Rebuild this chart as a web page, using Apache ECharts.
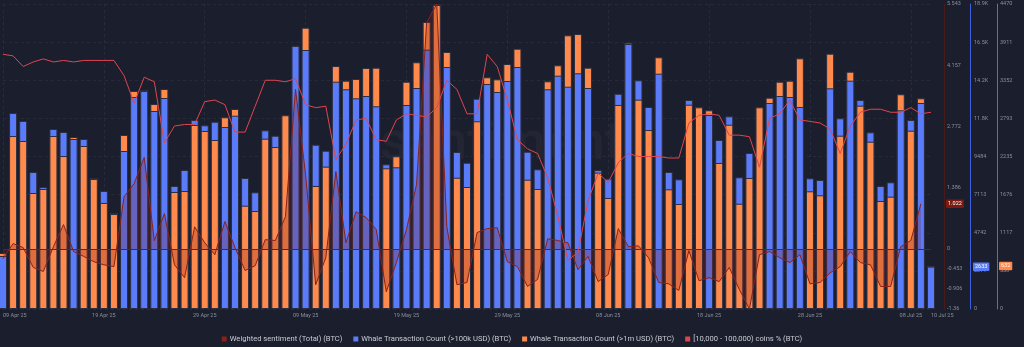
<!DOCTYPE html>
<html>
<head>
<meta charset="utf-8">
<style>
html,body{margin:0;padding:0;background:#1b1e2c;}
#chart{width:1024px;height:347px;}
</style>
<script src="https://cdn.jsdelivr.net/npm/echarts@6/dist/echarts.min.js"></script>
</head>
<body>
<div id="chart"></div>
<script>
// ---- data ----
const startDate = Date.UTC(2025, 3, 9);
const dayCount = 93;
const monthNames = ['Jan','Feb','Mar','Apr','May','Jun','Jul','Aug','Sep','Oct','Nov','Dec'];
const dates = [];
for (let i = 0; i < dayCount; i++) {
  const d = new Date(startDate + i * 86400000);
  dates.push(String(d.getUTCDate()).padStart(2,'0') + ' ' + monthNames[d.getUTCMonth()] + ' ' + String(d.getUTCFullYear()).slice(2));
}

const whale100k = [
  3296,12189,11692,8520,7587,11194,11008,10572,10572,8147,
  7338,5970,9826,13184,13557,12314,13122,7649,8644,11754,
  11424,11648,11319,12021,8147,7258,11113,10778,12065,16356,
  16107,10218,9845,14136,13663,13103,13246,12606,8999,8812,
  12687,13744,16126,18950,15050,9764,9098,13079,13993,13495,
  14179,15050,9783,8688,13663,14509,13825,14658,13744,8644,
  8103,13389,16480,14223,12562,14633,8520,8066,12998,12562,
  12065,10510,11984,8190,9702,12562,12811,13246,13184,12562,
  8128,8023,13725,11860,14198,12998,10989,7649,7879,12357,
  11754,12811,2633
];
const whale1m = [
  821,2535,2462,1700,1759,2535,2242,2521,2389,1905,
  1554,1392,2550,3195,3210,3004,3224,1715,1729,2697,
  2609,2477,2810,2931,1514,1436,2496,2374,2839,3862,
  4123,1803,2086,3561,3346,3371,3532,3537,2062,2238,
  3331,3616,4206,4455,3767,1924,1788,2751,3396,3366,
  3591,3815,1895,1759,3337,3572,4011,4030,3537,1998,
  1627,2990,3903,3068,2623,3689,1754,1539,2994,2956,
  2912,2140,2701,1543,1920,2956,3097,3331,3346,3674,
  1725,1666,3742,2540,3478,2980,2452,1583,1646,3147,
  2613,3088,632
];
const sentiment = [
  -0.22,0.12,0.03,-0.42,-0.51,0.05,0.55,-0.06,-0.17,-0.29,
  -0.36,-0.40,1.18,1.48,2.07,0.19,0.80,-0.36,-0.65,0.50,
  0.14,-0.13,0.62,0.03,-0.49,-0.38,0.21,0.19,0.73,3.61,
  1.68,-0.81,-0.20,1.75,0.14,0.84,0.71,0.44,-0.97,-0.31,
  0.44,1.46,5.12,5.543,0.50,-0.81,-0.76,0.37,0.46,0.48,
  -0.29,-0.40,-0.85,-0.69,0.23,0.19,0.14,-0.47,-0.17,-0.74,
  -0.58,0.46,0.05,0.07,-0.20,-0.76,-0.79,-0.94,-0.04,-0.72,
  -0.65,-0.74,-0.42,-0.92,-1.36,-0.13,-0.06,-0.20,-0.31,-0.13,
  -0.79,-0.76,-0.54,-0.40,-0.06,-0.31,-0.36,-0.85,-0.85,0.05,
  0.19,1.022,null
];
const coinsPct = [
  24.17,24.16,24.09,24.12,24.14,24.12,24.13,24.12,24.13,24.13,
  24.13,24.13,24.03,23.85,24.02,23.99,23.59,23.70,23.71,23.71,
  23.86,23.87,23.84,23.66,23.66,23.83,24.00,24.00,23.99,24.01,
  23.84,23.82,23.83,23.48,23.58,23.74,23.75,23.61,23.60,23.74,
  23.78,23.77,23.76,23.82,24.00,23.94,23.78,23.78,24.17,24.09,
  23.87,23.61,23.55,23.52,23.36,23.11,22.82,22.87,23.21,23.39,
  23.33,23.46,23.52,23.50,23.50,23.50,23.49,23.49,23.72,23.77,
  23.78,23.77,23.64,23.64,23.63,23.43,23.75,23.78,23.87,23.74,
  23.73,23.72,23.68,23.52,23.70,23.79,23.81,23.81,23.79,23.79,
  23.82,23.78,23.79
];

const sentimentTicks = [5.543, 4.157, 2.772, 1.386, 0, -0.453, -0.906, -1.36];
const BLUE_MAX = 18968, BLUE_STEP = 2371;
const ORANGE_MAX = 4470, ORANGE_STEP = 558.75;

const NAME_S = 'Weighted sentiment (Total) (BTC)';
const NAME_B = 'Whale Transaction Count (>100k USD) (BTC)';
const NAME_O = 'Whale Transaction Count (>1m USD) (BTC)';
const NAME_P = '[10,000 - 100,000) coins % (BTC)';

// ---- z-ordering: the taller (relative to its own axis) bar is drawn behind ----
const blueBehind = whale100k.map((v, i) => v / BLUE_MAX > whale1m[i] / ORANGE_MAX);
const blueBack = whale100k.map((v, i) => blueBehind[i] ? v : '-');
const blueFront = whale100k.map((v, i) => blueBehind[i] ? '-' : v);
const orangeBack = whale1m.map((v, i) => blueBehind[i] ? '-' : v);
const orangeFront = whale1m.map((v, i) => blueBehind[i] ? v : '-');

const BLUE = '#5a7bfa', ORANGE = '#ff8a4c', DARKRED = '#8a2219', RED = '#e0454f';
const FONT = 'Roboto, "Noto Sans", sans-serif';
const LABEL_GRAY = '#8b909e';

const lastIdx = (arr) => { for (let i = arr.length - 1; i >= 0; i--) if (arr[i] != null) return i; return -1; };
const lastS = sentiment[lastIdx(sentiment)];
const lastB = whale100k[whale100k.length - 1];
const lastO = whale1m[whale1m.length - 1];
const emptyData = dates.map(() => '-');

function tagItem(value, text, bg, dist) {
  return {
    yAxis: value,
    lineStyle: { color: 'rgba(0,0,0,0)', width: 0 },
    label: {
      show: true, position: 'end', distance: dist, formatter: text,
      backgroundColor: bg, color: '#ffffff', fontSize: 5.5, fontFamily: FONT,
      padding: [1.5, 2, 1, 2], borderRadius: 1
    }
  };
}
function tagSeries(yIdx, value, text, bg, dist) {
  return {
    type: 'line', yAxisIndex: yIdx, data: emptyData, z: 8, clip: false,
    symbol: 'none', silent: true, animation: false, lineStyle: { width: 0 },
    markLine: {
      silent: true, symbol: 'none', animation: false, clip: false,
      emphasis: { disabled: true },
      data: [tagItem(value, text, bg, dist)]
    }
  };
}

const barCommon = {
  type: 'bar', xAxisIndex: 0, barWidth: 8, barGap: '-100%',
  animation: false, clip: true,
  emphasis: { disabled: true }
};

const showLabel = (idx) => idx % 10 === 0 || idx === dayCount - 1;
const kFmt = (v) => v >= 10000 ? (Math.floor(v / 100) / 10).toFixed(1) + 'K' : String(Math.floor(v));

const chart = echarts.init(document.getElementById('chart'), null, { renderer: 'canvas' });
chart.setOption({
  backgroundColor: '#1b1e2c',
  animation: false,
  textStyle: { fontFamily: FONT },
  graphic: [{
    type: 'text', left: 380, top: 118, silent: true, z: 0,
    style: { text: 'santiment', fill: 'rgba(255,255,255,0.035)', fontSize: 54, fontFamily: FONT, fontWeight: 500 }
  }],
  grid: { left: 0, right: 93, top: 4, bottom: 38 },
  legend: {
    left: 'center', top: 330,
    itemWidth: 5, itemHeight: 5, itemGap: 11, icon: 'rect',
    textStyle: { color: '#c8cbd3', fontSize: 7.6, fontFamily: FONT, padding: [0, 0, 0, -2] },
    itemStyle: { borderWidth: 0 },
    data: [NAME_S, NAME_B, NAME_O, NAME_P]
  },
  xAxis: {
    type: 'category', data: dates, boundaryGap: false,
    axisLine: { show: false }, axisTick: { show: false },
    axisLabel: {
      color: LABEL_GRAY, fontSize: 5.5, margin: 4, interval: (idx) => showLabel(idx),
      alignMinLabel: 'left', alignMaxLabel: 'left', hideOverlap: false
    },
    splitLine: { show: true, interval: (idx) => idx % 10 === 0, lineStyle: { color: '#272b3b', type: [3, 3], width: 1 } }
  },
  yAxis: [
    {
      type: 'value', position: 'right', offset: 13, min: -1.36, max: 5.543,
      axisLine: { show: true, lineStyle: { color: '#4a1a17', width: 1 } },
      axisTick: { show: false, customValues: sentimentTicks },
      axisLabel: { color: LABEL_GRAY, fontSize: 5.5, margin: 3, customValues: sentimentTicks, formatter: (v) => String(v) },
      splitLine: { show: false }
    },
    {
      type: 'value', position: 'right', offset: 39, min: 0, max: BLUE_MAX, interval: BLUE_STEP,
      axisLine: { show: true, lineStyle: { color: '#3f5fe0', width: 1 } },
      axisTick: { show: false },
      axisLabel: { color: LABEL_GRAY, fontSize: 5.5, margin: 4, formatter: kFmt, showMinLabel: true, showMaxLabel: true },
      splitLine: { show: true, lineStyle: { color: '#262a3a', type: [3, 3], width: 1 } }
    },
    {
      type: 'value', position: 'right', offset: 66, min: 0, max: ORANGE_MAX, interval: ORANGE_STEP,
      axisLine: { show: true, lineStyle: { color: '#b8583f', width: 1 } },
      axisTick: { show: false },
      axisLabel: { color: LABEL_GRAY, fontSize: 5.5, margin: 3, formatter: (v) => String(Math.floor(v + 1e-6)), showMinLabel: true, showMaxLabel: true },
      splitLine: { show: false }
    },
    {
      type: 'value', show: false, min: 22.5, max: 24.5
    }
  ],
  series: [
    Object.assign({}, barCommon, {
      name: NAME_B, yAxisIndex: 1, z: 2, data: blueBack,
      itemStyle: { color: BLUE, borderColor: '#2a2e40', borderWidth: 1 }
    }),
    Object.assign({}, barCommon, {
      name: NAME_O, yAxisIndex: 2, z: 2, data: orangeBack,
      itemStyle: { color: ORANGE, borderColor: '#2a2e40', borderWidth: 1 }
    }),
    Object.assign({}, barCommon, {
      name: NAME_B, yAxisIndex: 1, z: 3, data: blueFront,
      itemStyle: { color: BLUE, borderColor: '#2a2e40', borderWidth: 1 }
    }),
    Object.assign({}, barCommon, {
      name: NAME_O, yAxisIndex: 2, z: 3, data: orangeFront,
      itemStyle: { color: ORANGE, borderColor: '#2a2e40', borderWidth: 1 }
    }),
    {
      name: NAME_S, type: 'line', yAxisIndex: 0, z: 5, data: sentiment,
      symbol: 'none', connectNulls: false, animation: false,
      lineStyle: { color: DARKRED, width: 1 },
      itemStyle: { color: DARKRED },
      areaStyle: { color: 'rgba(135,34,28,0.38)', origin: 0 },
      emphasis: { disabled: true },
      markLine: {
        silent: true, symbol: 'none', animation: false,
        lineStyle: { color: '#6e1d17', width: 1, type: 'solid' },
        label: { show: false },
        data: [{ yAxis: 0 }]
      }
    },
    {
      name: NAME_P, type: 'line', yAxisIndex: 3, z: 6, data: coinsPct,
      symbol: 'none', animation: false,
      lineStyle: { color: RED, width: 1 },
      itemStyle: { color: RED },
      emphasis: { disabled: true }
    },
    tagSeries(0, lastS, String(lastS), '#7a1c14', 15),
    tagSeries(1, lastB, String(lastB), '#5a7bfa', 42),
    tagSeries(2, lastO, String(lastO), '#ff8a4c', 68)
  ]
});
</script>
</body>
</html>
